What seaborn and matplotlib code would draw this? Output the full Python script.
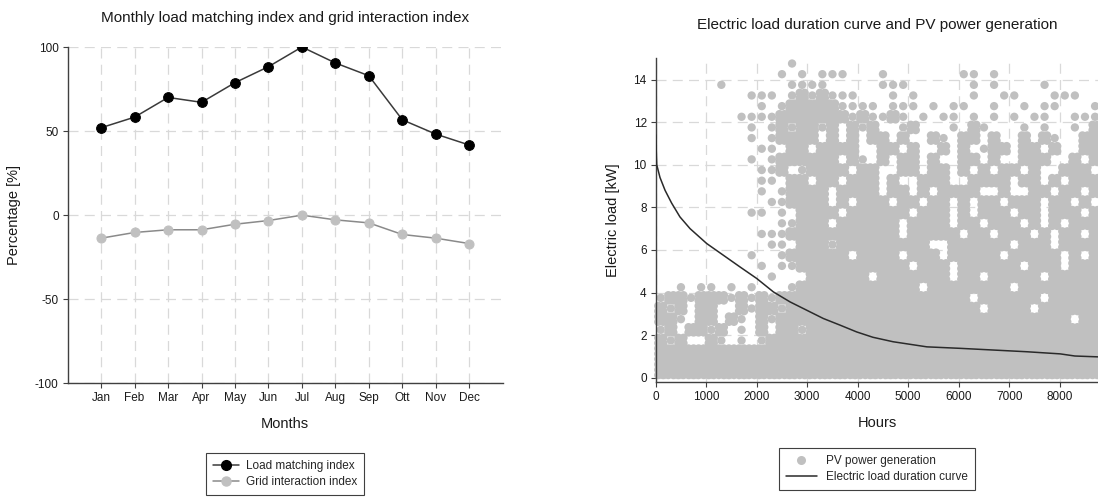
import matplotlib
matplotlib.use("Agg")
import matplotlib.pyplot as plt
import seaborn as sns
import pandas as pd
from matplotlib.lines import Line2D

# ---------------- data ----------------
months = ['Jan', 'Feb', 'Mar', 'Apr', 'May', 'Jun', 'Jul', 'Aug', 'Sep', 'Ott', 'Nov', 'Dec']
load_matching = [52.0, 58.3, 70.0, 67.1, 78.8, 88.3, 100.0, 90.5, 82.9, 56.7, 48.2, 41.7]
grid_interaction = [-13.7, -10.3, -8.7, -8.7, -5.4, -3.2, 0.0, -2.8, -4.6, -11.5, -13.7, -16.9]

curve_hours = [0, 20, 85, 185, 315, 480, 680, 1010, 1340, 1670, 2000, 2330, 2660, 2990,
               3320, 3650, 3980, 4300, 4700, 5370, 6030, 6690, 7350, 8010, 8300, 8760]
curve_kw = [11.4, 10.0, 9.4, 8.8, 8.2, 7.55, 7.0, 6.3, 5.75, 5.2, 4.66, 4.03, 3.56, 3.17,
            2.78, 2.47, 2.15, 1.9, 1.69, 1.45, 1.38, 1.30, 1.22, 1.12, 1.02, 0.98]

# PV power generation cloud read off the picture as a cell map:
# columns = 200 h bins (0..8800 h), rows = 0.5 kW bins from 15 kW (top) to 0 kW (bottom)
# '#' = cell fully covered by dots, '+' = single dot, ' ' = empty
pv_col_hours = 200
pv_row_kw = 0.5
pv_map = [
    "             +",
    "            + + +++   +       ++ +",
    "      +      ++++     +++      + +    +",
    "         +++ +#+#+++   + +     +  ++   +++",
    "          + +#####++++ +++ + ++  +  + ++   +",
    "        ++++#######+#++#+ + ++ + + + ++  +++",
    "         + " "+#+##+# #+#" "  +#   + #+" "   + +  + #",
    "         + " "+#### # # #" "# #  #+ ## " "#  # #+  ##",
    "          +" "+ ## ####  " "## #  # # +" "## ## #  ##",
    "         + " "+###### #+ " "# ## #  ## " "#  ###  # #",
    "          +" "+# +#### ##" "  ## ## # #" " ## #  ### ",
    "          +" "+ ## ## ###" " #  ###  ##" "## ## # ###",
    "          +" " +#### ####" " ## # #### " " #  ## ## #",
    "           " "++#### # ##" "# ## ## # #" "# ### ## # ",
    "         ++" " + #### ###" "### ### # #" "## ## ### #",
    "           " " ++### ####" "## #### ## " "### # # ###",
    "          +" "++#########" "## ##### ##" " ### # ## #",
    "           " "++ ###+####" "#####  ####" "## ### ####",
    "         + " " +###### ##" "## ### ####" "# ##### # #",
    "          +" " ++########" "### ### ###" "### ### ###",
    "           " "+   ###### " "####### ## " "##### #####",
    "  + ++ + + " "  +########" "#### ######" "## ########",
    "+##+###+#+#" "+##########" "######### #" "##### #####",
    "#+# ##  #+#" "#+#########" "########## " "#### ######",
    "##+ ## #+ #" "+##########" "###########" "######## ##",
    "+# ##+# + #" " ##+#######" "###########" "###########",
    "#+#  #+ + +" "###########" "###########" "###########",
    "#" * 44,
    "#" * 44,
    "#" * 44,
]

# ---------------- style ----------------
sns.set_theme(style="ticks")
plt.rcParams['font.family'] = ['Liberation Sans', 'DejaVu Sans']
plt.rcParams['axes.edgecolor'] = '#404040'
plt.rcParams['axes.linewidth'] = 1.0
plt.rcParams['axes.unicode_minus'] = False

W, H = 1098, 498
fig = plt.figure(figsize=(W / 100, H / 100), dpi=100)
ax1 = fig.add_axes([67.7 / W, 1 - 383.3 / H, 435.0 / W, 336.3 / H])
ax2 = fig.add_axes([655.7 / W, 1 - 382.0 / H, 442.4 / W, 323.8 / H])

grid_kw = dict(color='#d9d9d9', linestyle=(0, (8, 5)), linewidth=0.9)
tick_kw = dict(length=3.5, width=0.8, color='#404040', labelsize=8.5,
               labelcolor='#1a1a1a', pad=3)

# ---------------- left panel ----------------
df_left = pd.DataFrame({'m': range(1, 13), 'lmi': load_matching, 'gii': grid_interaction})
sns.lineplot(data=df_left, x='m', y='lmi', ax=ax1, color='#3a3a3a', lw=1.1,
             marker='o', markersize=7, markerfacecolor='black', markeredgecolor='black',
             zorder=3)
sns.lineplot(data=df_left, x='m', y='gii', ax=ax1, color='#8a8a8a', lw=1.1,
             marker='o', markersize=6.5, markerfacecolor='#c0c0c0', markeredgecolor='#c0c0c0',
             zorder=3)
ax1.set_xlim(0, 13)
ax1.set_ylim(-100, 100)
ax1.set_xticks(range(1, 13))
ax1.set_xticklabels(months)
ax1.set_yticks([-100, -50, 0, 50, 100])
ax1.set_axisbelow(True)
ax1.grid(True, **grid_kw)
ax1.tick_params(**tick_kw)
sns.despine(ax=ax1)
ax1.set_xlabel('Months', fontsize=10.5, labelpad=9, color='#1a1a1a')
ax1.set_ylabel('Percentage [%]', fontsize=10.5, labelpad=10, color='#1a1a1a')
ax1.set_title('Monthly load matching index and grid interaction index', fontsize=11,
              pad=18, color='#1a1a1a')

h1 = [Line2D([], [], color='#3a3a3a', lw=1.1, marker='o', markersize=7,
             markerfacecolor='black', markeredgecolor='black'),
      Line2D([], [], color='#8a8a8a', lw=1.1, marker='o', markersize=6.5,
             markerfacecolor='#c0c0c0', markeredgecolor='#c0c0c0')]
leg1 = ax1.legend(h1, ['Load matching index', 'Grid interaction index'],
                  loc='upper center', bbox_to_anchor=(0.5, -0.19), fontsize=8.5,
                  frameon=True, fancybox=False, framealpha=1, edgecolor='#404040',
                  borderpad=0.6, handlelength=2.2, handletextpad=0.6, labelspacing=0.35)
leg1.get_frame().set_linewidth(0.8)

# ---------------- right panel ----------------
# each '#' cell is covered by a 2x2 group of dots, each '+' cell by one dot
cells = []
for r, line in enumerate(pv_map):
    line = line.ljust(44)[:44]
    for c, ch in enumerate(line):
        hc = c * pv_col_hours + pv_col_hours / 2
        kc = 15 - pv_row_kw * (r + 0.5)
        if ch == '#':
            for dh in (-pv_col_hours / 4, pv_col_hours / 4):
                for dk in (-pv_row_kw / 4, pv_row_kw / 4):
                    cells.append((hc + dh, kc + dk))
        elif ch == '+':
            cells.append((hc, kc))
pv = pd.DataFrame(cells, columns=['hour', 'kw'])

sns.scatterplot(data=pv, x='hour', y='kw', s=36, color='#c0c0c0',
                edgecolor='none', linewidth=0, legend=False, ax=ax2,
                zorder=2, clip_on=False)
df_curve = pd.DataFrame({'h': curve_hours, 'kw': curve_kw})
sns.lineplot(data=df_curve, x='h', y='kw', ax=ax2, color='#2a2a2a', lw=1.1, zorder=3)

ax2.set_xlim(0, 8760)
ax2.set_ylim(-0.2, 15)
ax2.set_xticks(range(0, 9000, 1000))
ax2.set_yticks(range(0, 15, 2))
ax2.set_axisbelow(True)
ax2.grid(True, **grid_kw)
ax2.tick_params(**tick_kw)
sns.despine(ax=ax2)
ax2.set_xlabel('Hours', fontsize=10.5, labelpad=9, color='#1a1a1a')
ax2.set_ylabel('Electric load [kW]', fontsize=10.5, labelpad=10, color='#1a1a1a')
ax2.set_title('Electric load duration curve and PV power generation', fontsize=11,
              pad=21, color='#1a1a1a')

h2 = [Line2D([], [], color='#c0c0c0', lw=0, marker='o', markersize=6.5,
             markeredgecolor='none'),
      Line2D([], [], color='#2a2a2a', lw=1.1)]
leg2 = ax2.legend(h2, ['PV power generation', 'Electric load duration curve'],
                  loc='upper center', bbox_to_anchor=(0.5, -0.185), fontsize=8.5,
                  frameon=True, fancybox=False, framealpha=1, edgecolor='#404040',
                  borderpad=0.6, handlelength=2.6, handletextpad=0.8, labelspacing=0.35)
leg2.get_frame().set_linewidth(0.8)

fig.savefig('out.png', dpi=100)
